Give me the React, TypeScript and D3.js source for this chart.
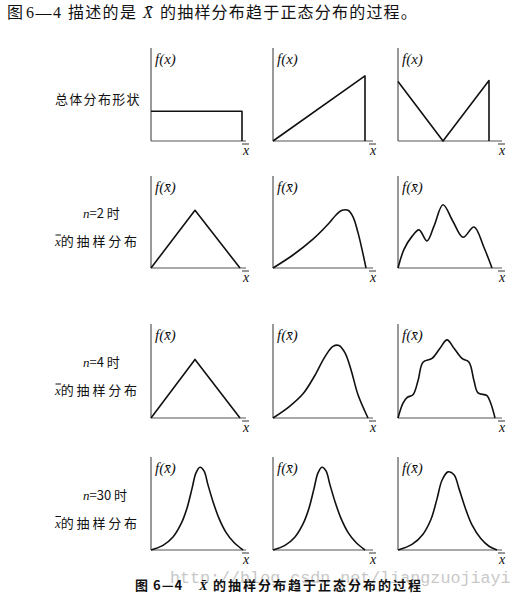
import * as d3 from "d3";

const WIDTH = 521;
const HEIGHT = 601;

// panel frame (screen px)
const COL_X = [151, 273, 398];
const COL_LEN = [95, 100, 104];
const ROW_BASE = [141, 268, 418, 550];
const ROW_TOP = [48, 176, 324, 457];
const PLOT_H = 93;

// shapes: x = distance along the axis, y = height (0..100)
const uniformShape = [[0, 32], [91, 32], [91, 0]];
const rampShape = [[0, 0], [92, 70], [92, 0]];
const vShape = [[0, 64], [45, 0], [91, 65], [91, 0]];

const n2Uniform = [[0, 0], [44, 62], [89, 0]];
const n2Ramp = [[0, 0], [20, 14], [40, 31], [55, 47], [63, 57], [69, 62], [75, 62], [80, 55], [85, 38], [89, 20], [93, 0]];
const n2V = [[0, 0], [6, 20], [14, 34], [21, 41], [29, 29], [36, 45], [45, 68], [55, 50], [65, 33], [76, 44], [86, 22], [94, 0]];

const n4Uniform = [[0, 0], [44, 63], [89, 0]];
const n4Ramp = [[0, 0], [16, 12], [30, 26], [42, 46], [52, 66], [60, 77], [66, 78], [72, 70], [78, 52], [85, 25], [95, 0]];
const n4V = [[0, 0], [5, 16], [9, 22], [15, 25], [20, 40], [25, 60], [34, 64], [42, 75], [49, 84], [56, 75], [64, 64], [71, 60], [76, 40], [80, 27], [89, 24], [93, 15], [97, 0]];

const n30Uniform = [[0, 0], [12, 5], [22, 14], [30, 28], [36, 45], [41, 66], [45, 83], [49, 89], [53, 85], [57, 70], [62, 52], [68, 34], [75, 19], [83, 8], [92, 0]];
const n30Ramp = [[0, 0], [12, 5], [22, 14], [30, 28], [36, 45], [41, 66], [45, 83], [49, 89], [53, 85], [57, 70], [62, 52], [68, 34], [75, 19], [83, 8], [92, 0]];
const n30V = [[0, 0], [14, 6], [25, 17], [33, 33], [39, 55], [44, 75], [50, 84], [56, 81], [61, 66], [67, 46], [74, 27], [83, 12], [91, 4], [99, 0]];

const PANELS = [
  [uniformShape, rampShape, vShape],
  [n2Uniform, n2Ramp, n2V],
  [n4Uniform, n4Ramp, n4V],
  [n30Uniform, n30Ramp, n30V],
];
const SMOOTH = [
  [false, false, false],
  [false, true, true],
  [false, true, true],
  [true, true, true],
];

const ROW_N = ["", "2", "4", "30"];
const HEADER_HEAD = "描述的是";
const HEADER_TAIL = "的抽样分布趋于正态分布的过程。";
const CAPTION_TAIL = "的抽样分布趋于正态分布的过程";
const WATERMARK = "http://blog.csdn.net/liangzuojiayi";

const SERIF = "'Liberation Serif', 'DejaVu Serif', serif";
const CJK = "'Noto Sans CJK SC', sans-serif";
const BAR = "\u0304";

function Panel({ row, col }: { row: number; col: number }) {
  const x0 = COL_X[col];
  const base = ROW_BASE[row];
  const x = d3.scaleLinear().domain([0, 100]).range([x0, x0 + 100]);
  const y = d3.scaleLinear().domain([0, 100]).range([base, base - PLOT_H]);
  const line = d3
    .line<number[]>()
    .x((d) => x(d[0]))
    .y((d) => y(d[1]))
    .curve(SMOOTH[row][col] ? d3.curveCatmullRom.alpha(0.5) : d3.curveLinear);
  const end = x0 + COL_LEN[col];
  const bar = row > 0;
  return (
    <g>
      <line x1={x0} y1={ROW_TOP[row]} x2={x0} y2={base} stroke="#555" strokeWidth={1.2} />
      <line x1={x0} y1={base} x2={end} y2={base} stroke="#555" strokeWidth={1.2} />
      <path d={line(PANELS[row][col]) ?? ""} fill="none" stroke="#111" strokeWidth={1.6} strokeLinejoin="round" />
      <text x={x0 + 4} y={ROW_TOP[row] + 16} fontFamily={SERIF} fontStyle="italic" fontSize={15} fill="#111">
        {bar ? `f(x${BAR})` : "f(x)"}
      </text>
      <line x1={end - 4} y1={base + 3} x2={end + 3} y2={base + 3} stroke="#333" strokeWidth={1} />
      <text x={end} y={base + 14} textAnchor="middle" fontFamily={SERIF} fontStyle="italic" fontSize={14} fill="#111">
        x
      </text>
    </g>
  );
}

function RowLabel({ row }: { row: number }) {
  const mid = (ROW_TOP[row] + ROW_BASE[row]) / 2;
  if (row === 0) {
    return (
      <text x={55} y={mid + 9} fontFamily={CJK} fontSize={13} letterSpacing={1.3} fill="#111">
        总体分布形状
      </text>
    );
  }
  return (
    <g>
      <text x={83} y={mid - 4} fontSize={13} fill="#111">
        <tspan fontFamily={SERIF} fontStyle="italic">n</tspan>
        <tspan fontFamily={CJK}>{`=${ROW_N[row]} 时`}</tspan>
      </text>
      <line x1={55.5} y1={mid + 13} x2={61} y2={mid + 13} stroke="#111" strokeWidth={1} />
      <text x={55} y={mid + 24} fontSize={13} fill="#111">
        <tspan fontFamily={SERIF} fontStyle="italic">x</tspan>
        <tspan fontFamily={CJK} letterSpacing={2.8}>的抽样分布</tspan>
      </text>
    </g>
  );
}

export default function App() {
  return (
    <svg width={WIDTH} height={HEIGHT} style={{ position: "absolute", left: 0, top: 0, background: "#fff" }}>
      <text y={18} fontSize={16} fill="#111" fontFamily={CJK}>
        <tspan x={7}>图</tspan>
        <tspan x={26} fontFamily={SERIF} letterSpacing={1.5}>6—4</tspan>
        <tspan x={68} letterSpacing={1.3}>{HEADER_HEAD}</tspan>
        <tspan x={143} fontFamily={SERIF} fontStyle="italic">{`X${BAR}`}</tspan>
        <tspan x={160} letterSpacing={1.2}>{HEADER_TAIL}</tspan>
      </text>
      {PANELS.map((cols, r) => (
        <g key={r}>
          <RowLabel row={r} />
          {cols.map((_, c) => (
            <Panel key={c} row={r} col={c} />
          ))}
        </g>
      ))}
      <text x={170} y={583} fontFamily="'Liberation Mono', monospace" fontSize={16.7} fill="#c8c8c8">
        {WATERMARK}
      </text>
      <text y={590} fontSize={13} fontWeight="bold" fill="#111" fontFamily={CJK}>
        <tspan x={135}>图</tspan>
        <tspan x={153} letterSpacing={1}>6—4</tspan>
        <tspan x={199} fontFamily={SERIF} fontStyle="italic">{`X${BAR}`}</tspan>
        <tspan x={213} letterSpacing={2}>{CAPTION_TAIL}</tspan>
      </text>
    </svg>
  );
}
